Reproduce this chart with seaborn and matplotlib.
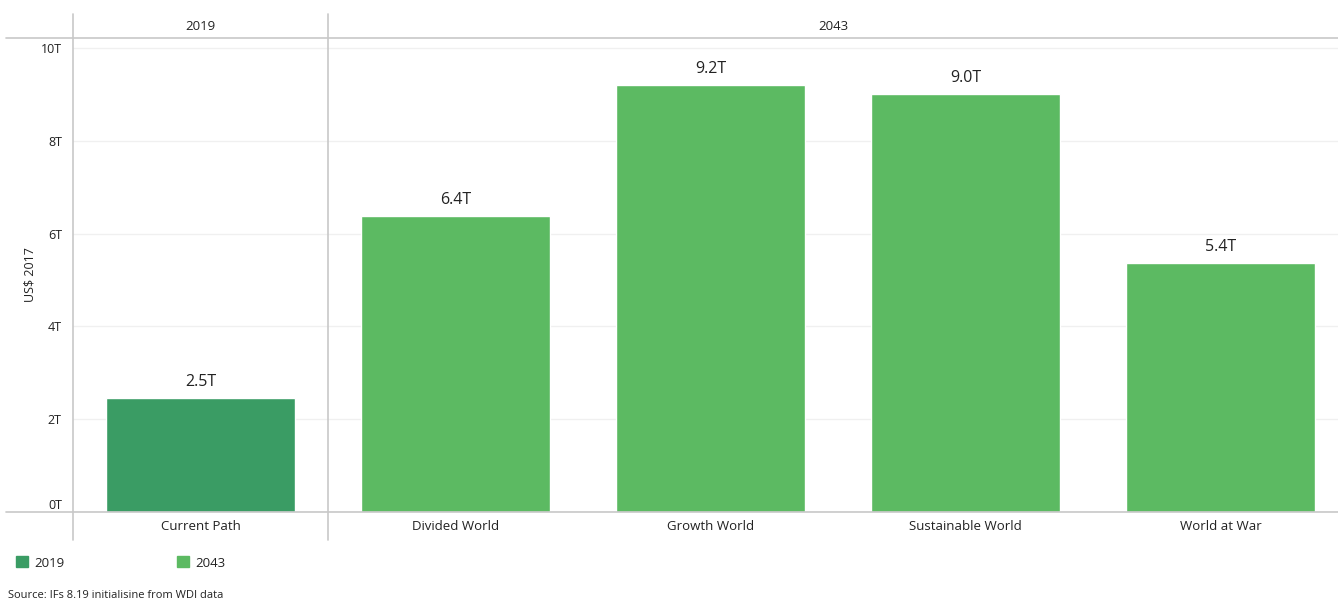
import matplotlib.pyplot as plt
import matplotlib.lines as mlines
import matplotlib.patches as mpatches
import pandas as pd
import seaborn as sns

# ── data ────────────────────────────────────────────────────────────────────
scenarios = ["Current Path", "Divided World", "Growth World", "Sustainable World", "World at War"]
years = ["2019", "2043", "2043", "2043", "2043"]
values = [2.46, 6.38, 9.2, 9.01, 5.36]
labels = ["2.5T", "6.4T", "9.2T", "9.0T", "5.4T"]
yticks = [0, 2, 4, 6, 8, 10]

palette = {"2019": "#3a9c64", "2043": "#5cba62"}
grey = "#c8c8c8"
txt = "#222222"

df = pd.DataFrame({"scenario": scenarios, "year": years, "value": values})

W, H = 1338, 600
sns.set_style("white")
plt.rcParams["font.family"] = ["Open Sans", "DejaVu Sans"]

fig = plt.figure(figsize=(W / 100, H / 100), dpi=100)
ax = fig.add_axes([73 / W, 88 / H, (W - 73) / W, 474 / H])

sns.barplot(data=df, x="scenario", y="value", hue="year", palette=palette,
            dodge=False, width=0.745, saturation=1, legend=False, ax=ax)

ax.set_ylim(0, 474 / 46.4)
ax.set_xlim(-0.5, 4.5 - 10 / 255)
ax.set_yticks(yticks)
ax.set_yticklabels([f"{t}T" for t in yticks], fontsize=9, color=txt)
ax.get_yticklabels()[0].set_va("bottom")
ax.tick_params(axis="y", length=0, pad=8)
ax.tick_params(axis="x", length=0, pad=6, labelsize=9.5, labelcolor=txt)
ax.set_xlabel("")
ax.set_ylabel("")
for s in ax.spines.values():
    s.set_visible(False)
ax.yaxis.grid(True, color="#f0f0f0", lw=1)
ax.set_axisbelow(True)

for i, (v, lab) in enumerate(zip(values, labels)):
    ax.text(i, v + 0.18, lab, ha="center", va="bottom", fontsize=11.5, color=txt)

# ── frame lines (header, panel separators, baseline) ────────────────────────
def fline(x0, y0, x1, y1):
    fig.add_artist(mlines.Line2D([x0 / W, x1 / W], [1 - y0 / H, 1 - y1 / H],
                                 color=grey, lw=1.2))

fline(6, 38, W, 38)
fline(6, 512, W, 512)
fline(73, 14, 73, 540)
fline(328, 14, 328, 540)

fig.text(200 / W, 1 - 26 / H, "2019", ha="center", va="center", fontsize=9.5, color=txt)
fig.text(833 / W, 1 - 26 / H, "2043", ha="center", va="center", fontsize=9.5, color=txt)

fig.text(30 / W, 1 - 275 / H, "US$ 2017", rotation=90, ha="center", va="center",
         fontsize=9, color=txt)

# ── legend ──────────────────────────────────────────────────────────────────
handles = [mpatches.Patch(color=palette[y]) for y in ["2019", "2043"]]
fig.legend(handles, ["2019", "2043"], loc="center left", bbox_to_anchor=(4 / W, 1 - 563 / H),
           ncol=2, frameon=False, fontsize=9.5, handlelength=0.9, handleheight=0.9,
           columnspacing=8.5, handletextpad=0.5, labelcolor=txt)

fig.text(8 / W, 1 - 595 / H, "Source: IFs 8.19 initialisine from WDI data", ha="left",
         va="center", fontsize=8, color=txt)

fig.savefig("out.png", dpi=100)
